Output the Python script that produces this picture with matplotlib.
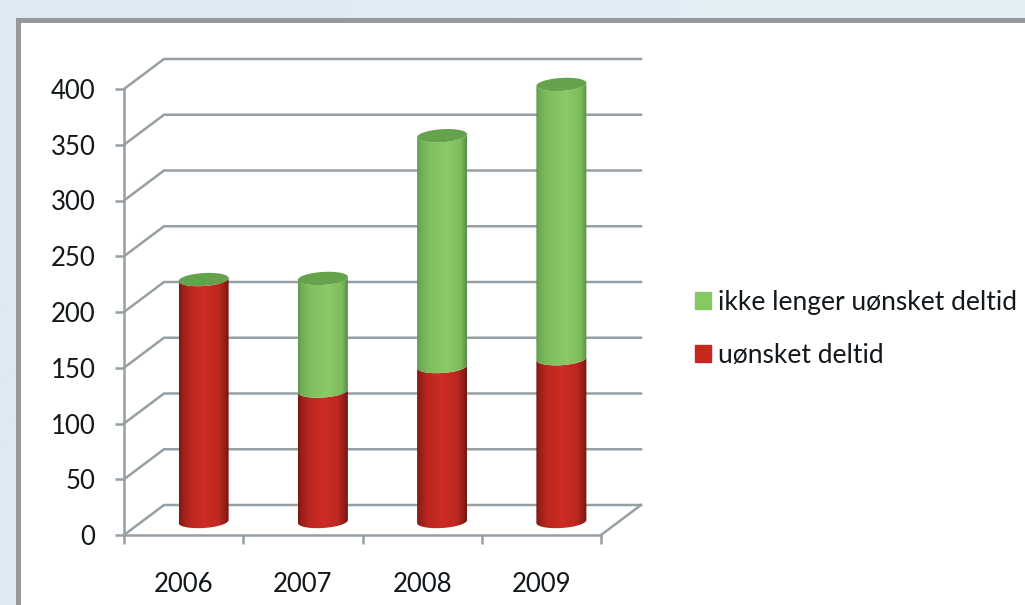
import matplotlib
matplotlib.use('Agg')
import matplotlib.pyplot as plt
import numpy as np
from matplotlib.colors import to_rgb
from matplotlib.patches import PathPatch, Patch, Rectangle
from matplotlib.path import Path

years = ['2006', '2007', '2008', '2009']
unwanted = [217, 117, 139, 146]
no_longer_unwanted = [0, 101, 207, 246]
y_ticks = [0, 50, 100, 150, 200, 250, 300, 350, 400]

label_unwanted = 'uønsket deltid'
label_no_longer = 'ikke lenger uønsket deltid'

W, H = 1025, 605
GRID = '#969fa3'
TEXT = '#12181c'

# pixels per data unit, needed for the fake 3d depth
px_x = 119.25
px_y = 446 / 400
depth_x = 40 / px_x
depth_y = 30 / px_y
bar_dx = 20 / px_x
bar_dy = 13.5 / px_y
half_w = 25 / px_x
ell_h = 6.5 / px_y
tilt = 1.5 / px_y / half_w

plt.rcParams['font.family'] = ['Lato', 'DejaVu Sans']

fig = plt.figure(figsize=(W / 100, H / 100), dpi=100)

# background
bg = fig.add_axes([0, 0, 1, 1])
bg.axis('off')
grad = np.array([[np.array(to_rgb('#deeaf3')) * (1 - t) + np.array(to_rgb('#e4eff5')) * t
                  for t in np.linspace(0, 1, 30)]])
bg.imshow(grad, extent=[0, 1, 0, 1], aspect='auto', interpolation='bilinear')
fig.patches.append(Rectangle((16 / W, 0), 1, 1 - 18 / H, transform=fig.transFigure,
                             facecolor='#96989c', edgecolor='none', zorder=1, figure=fig))
fig.patches.append(Rectangle((21 / W, 0), 1, 1 - 23 / H, transform=fig.transFigure,
                             facecolor='white', edgecolor='none', zorder=1, figure=fig))

ax = fig.add_axes([124 / W, (H - 535) / H, 477 / W, 446 / H], zorder=3)
ax.patch.set_visible(False)
ax.set_xlim(0, 4)
ax.set_ylim(0, 400)

for s in ['top', 'right']:
    ax.spines[s].set_visible(False)
for s in ['left', 'bottom']:
    ax.spines[s].set_color(GRID)
    ax.spines[s].set_linewidth(1.8)

ax.set_yticks(y_ticks)
ax.set_xticks(range(5))
ax.set_xticklabels([])
ax.set_xticks(np.arange(4) + 0.5, years, minor=True)
ax.tick_params(axis='y', length=6.5, width=1.8, color=GRID, pad=14, labelsize=18.5, labelcolor=TEXT)
ax.tick_params(axis='x', which='major', length=6.5, width=1.8, color=GRID)
ax.tick_params(axis='x', which='minor', length=0, pad=27, labelsize=18.5, labelcolor=TEXT)

# walls and floor
for v in y_ticks:
    ax.plot([0, depth_x, 4 + depth_x], [v, v + depth_y, v + depth_y],
            color=GRID, lw=1.8, clip_on=False, zorder=1, solid_joinstyle='miter')
ax.plot([4, 4 + depth_x], [0, depth_y], color=GRID, lw=1.8, clip_on=False, zorder=1)


def shade(stops):
    pos = [s[0] for s in stops]
    cols = np.array([to_rgb(s[1]) for s in stops])
    t = np.linspace(0, 1, 100)
    return np.dstack([np.interp(t, pos, cols[:, i]) for i in range(3)])


red_shade = shade([(0, '#7c1813'), (0.07, '#98201a'), (0.22, '#bb271f'), (0.5, '#cc2c24'),
                   (0.8, '#bd2820'), (0.93, '#941e18'), (1, '#741511')])
green_shade = shade([(0, '#5f9a4f'), (0.07, '#70ad57'), (0.25, '#80bf5e'), (0.6, '#8cc968'),
                     (0.88, '#7dbc5c'), (1, '#578f49')])


def segment(cx, v0, v1, colours):
    t = np.linspace(np.pi, 2 * np.pi, 40)
    xs = cx + half_w * np.cos(t)
    low = lambda v: v + ell_h * np.sin(t) + tilt * (xs - cx)
    verts = np.vstack([np.column_stack([xs, low(v0)]),
                       np.column_stack([xs[::-1], low(v1)[::-1]])])
    clip = PathPatch(Path(np.vstack([verts, verts[0]])), transform=ax.transData,
                     facecolor='none', edgecolor='none')
    im = ax.imshow(colours, extent=[cx - half_w, cx + half_w, v0 - 2 * ell_h, v1 + 2 * ell_h],
                   aspect='auto', zorder=2, interpolation='bilinear')
    im.set_clip_path(clip)
    im.set_clip_box(fig.bbox)


for i, year in enumerate(years):
    cx = i + 0.5 + bar_dx
    base = bar_dy
    mid = base + unwanted[i]
    top = mid + no_longer_unwanted[i]
    segment(cx, base, mid, red_shade)
    if no_longer_unwanted[i] > 0:
        segment(cx, mid, top, green_shade)
    t = np.linspace(0, 2 * np.pi, 60)
    xs = cx + half_w * np.cos(t)
    ax.fill(xs, top + ell_h * np.sin(t) + tilt * (xs - cx), color='#64a24c',
            clip_on=False, zorder=2.5, lw=0)

ax.set_xlim(0, 4)
ax.set_ylim(0, 400)

handles = [Patch(color='#86c862', label=label_no_longer),
           Patch(color='#c4281f', label=label_unwanted)]
ax.legend(handles=handles, loc='center left', bbox_to_anchor=(695 / W, (H - 329) / H),
          bbox_transform=fig.transFigure, frameon=False, fontsize=19, labelcolor=TEXT,
          handlelength=0.61, handleheight=0.61, handletextpad=0.27, labelspacing=1.05,
          borderpad=0, borderaxespad=0)

fig.savefig('out.png', dpi=100)
